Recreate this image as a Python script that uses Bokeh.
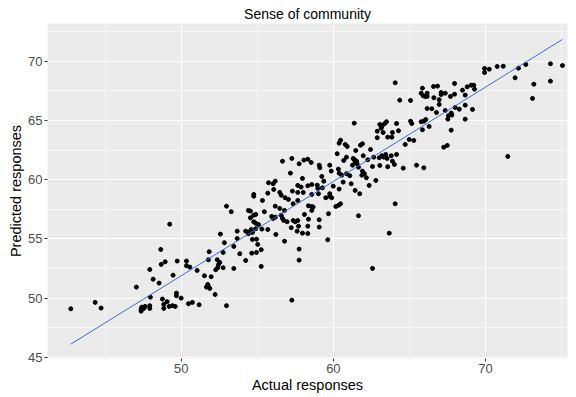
from bokeh.plotting import figure
from bokeh.models import FixedTicker, Range1d, ColumnDataSource
from bokeh.embed import file_html
from bokeh.resources import INLINE

title_text = "Sense of community"
x_label = "Actual responses"
y_label = "Predicted responses"

actual = [
    64.06, 64.36, 65.07, 65.85, 66.58, 66.84, 65.77, 65.90, 66.03, 66.16, 66.16, 66.60, 66.16, 66.47, 66.77,
    61.37, 63.05, 63.18, 63.14, 63.36, 63.49, 64.15, 65.07, 65.15, 65.77, 65.94, 66.07, 65.85, 66.29, 62.88,
    63.27, 63.88, 64.28,
    67.08, 67.35, 67.08, 67.96, 67.96, 67.69, 68.48, 68.79, 69.05, 69.22, 69.27, 68.66, 66.95, 66.95, 67.35,
    67.56, 67.74, 67.78, 67.52, 68.00, 68.27, 68.66, 69.14, 68.66, 67.74, 69.93, 69.93, 70.24, 70.76, 71.16,
    72.16, 72.64, 71.94, 73.17, 73.08, 74.26, 74.26, 75.05,
    56.66, 57.27, 57.75, 58.06, 58.32, 57.18, 57.97, 55.74, 56.04, 56.18, 56.08, 55.69, 56.48, 56.57, 56.83,
    57.05, 57.31, 57.66, 57.88, 57.66, 58.02, 58.32, 57.66, 54.77, 54.77, 55.34, 52.98, 53.29, 54.42, 54.55,
    56.18, 56.48, 56.79, 57.36, 54.77, 54.90, 54.55, 55.47, 55.95, 56.04, 56.18, 56.57, 56.66, 56.74, 56.96,
    57.36, 57.49, 57.66, 58.10, 58.32, 57.71, 57.23, 57.62, 57.97, 54.77, 54.90, 55.08, 55.30, 55.69, 56.22,
    54.60, 54.51, 54.68, 54.42, 54.90, 54.24, 53.68, 52.58, 54.68, 54.95, 55.03, 53.68, 52.84, 56.79, 58.32,
    60.47, 60.38, 60.78, 60.91, 61.78, 61.91, 62.88, 63.57, 63.84, 64.98, 65.28, 64.72, 62.44, 61.47, 60.25,
    60.68, 60.86, 61.30, 61.39, 61.43, 61.56, 61.52, 61.26, 61.65, 61.96, 62.26, 62.65, 63.01, 63.18, 63.31,
    63.44, 63.53, 63.80, 63.88, 64.01, 64.15, 62.57, 63.05, 63.57, 64.59, 65.46, 65.94, 59.07, 59.11, 58.54,
    59.76, 59.86, 60.33, 60.38, 60.55, 60.86, 61.08, 61.91, 61.87, 62.04, 62.17, 59.24, 58.58, 58.94, 58.98,
    59.28, 59.37, 59.99, 60.64, 61.17, 60.38, 61.43, 61.73, 62.35, 62.79, 58.58, 59.02, 59.76, 59.76, 59.89,
    59.50, 58.36, 58.58, 58.67, 58.58, 60.16, 60.34, 60.47, 59.07, 58.36, 59.68, 59.07, 61.65, 64.06, 63.67,
    59.63,
    67.25, 67.48, 71.46,
    49.25,
    48.66, 49.74, 48.95, 48.69, 47.94, 48.16, 48.55, 49.47, 47.06, 47.98, 48.77, 49.08, 48.86, 48.86, 49.21,
    49.43, 49.61, 49.69, 49.69, 47.41, 47.37, 47.37, 47.63, 47.54, 47.94, 47.94, 42.75, 44.35, 44.74,
    50.35, 50.35, 50.57, 51.05, 51.84, 52.76, 51.79, 52.37, 52.54, 52.45, 52.27, 52.40, 52.76, 53.46, 53.46,
    53.85, 54.24, 54.64, 54.95, 55.26, 55.26, 57.75, 57.75, 51.53, 51.97, 51.75, 51.66, 51.88, 51.79, 52.23,
    50.00, 50.48, 50.74, 51.18, 52.98, 57.27,
    62.57,
]

predicted = [
    68.19, 66.72, 66.70, 67.74, 67.88, 67.91, 67.31, 67.09, 67.04, 67.04, 67.31, 66.93, 66.02, 66.00, 65.68,
    64.78, 64.67, 64.50, 64.36, 64.73, 64.90, 64.75, 64.95, 64.75, 64.90, 64.95, 65.09, 64.22, 64.50, 64.10,
    63.99, 63.99, 64.14,
    67.37, 67.31, 67.20, 68.13, 67.23, 67.04, 67.57, 67.85, 67.99, 67.99, 67.65, 67.15, 66.76, 66.36, 65.85,
    65.41, 65.63, 65.46, 65.12, 66.11, 65.96, 66.30, 65.94, 65.12, 64.19, 69.40, 69.06, 69.34, 69.57, 69.59,
    69.43, 69.74, 68.61, 68.07, 66.87, 69.80, 68.33, 69.65,
    61.57, 61.80, 61.35, 61.66, 61.74, 60.56, 60.11, 59.75, 59.66, 59.88, 59.18, 58.87, 58.93, 58.70, 58.48,
    58.34, 59.04, 59.52, 59.38, 58.93, 58.93, 59.49, 58.25, 58.76, 58.61, 58.25, 57.77, 57.30, 57.41, 57.35,
    57.77, 57.58, 57.41, 57.97, 57.01, 57.07, 56.79, 57.30, 56.90, 56.73, 56.84, 57.01, 56.73, 56.56, 56.45,
    56.56, 56.45, 56.56, 57.07, 56.08, 56.08, 55.95, 55.66, 55.49, 56.45, 56.33, 56.22, 55.83, 55.80, 55.38,
    55.80, 55.61, 55.55, 55.44, 55.86, 55.66, 55.66, 55.41, 54.96, 54.98, 54.54, 55.04, 54.68, 54.81, 55.46,
    63.34, 63.09, 62.98, 62.81, 62.92, 63.04, 63.55, 63.60, 63.60, 63.40, 63.32, 62.98, 62.56, 62.47, 62.20,
    61.63, 61.91, 61.80, 61.69, 61.52, 61.35, 61.57, 61.23, 61.06, 62.03, 61.69, 61.91, 61.86, 62.03, 61.91,
    62.14, 61.80, 62.03, 61.57, 61.29, 62.14, 61.12, 61.21, 61.10, 60.98, 61.23, 61.01, 61.23, 61.01, 61.46,
    61.23, 60.73, 60.90, 60.56, 60.39, 60.51, 60.34, 60.73, 60.39, 60.51, 60.17, 60.28, 59.60, 59.54, 59.27,
    59.32, 59.88, 59.46, 59.80, 59.66, 59.21, 59.10, 58.82, 59.52, 59.94, 58.76, 58.82, 58.82, 58.59, 58.48,
    58.48, 57.80, 57.74, 57.69, 57.41, 57.74, 57.85, 57.97, 56.62, 56.67, 57.13, 56.00, 56.96, 57.97, 55.49,
    54.93,
    62.75, 62.90, 61.97,
    56.25,
    54.11, 53.13, 53.07, 52.85, 52.42, 51.60, 51.27, 51.94, 50.93, 50.08, 49.92, 49.70, 49.47, 49.13, 49.30,
    49.36, 49.30, 50.42, 50.20, 49.24, 49.07, 48.90, 49.30, 49.13, 49.36, 49.13, 49.10, 49.64, 49.16,
    53.13, 52.74, 52.62, 52.34, 53.92, 53.86, 53.24, 53.24, 53.02, 52.82, 52.40, 52.57, 52.57, 54.37, 52.51,
    53.75, 53.18, 53.80, 53.86, 54.09, 52.68, 54.14, 53.21, 51.89, 51.81, 51.16, 50.93, 50.82, 50.99, 50.31,
    50.00, 49.53, 49.64, 49.44, 49.36, 49.83,
    52.51,
]

fit_intercept = 12.04
fit_slope = 0.797

x_ticks = [50, 60, 70]
x_minor = [45, 55, 65, 75]
y_ticks = [45, 50, 55, 60, 65, 70]
y_minor = [47.5, 52.5, 57.5, 62.5, 67.5, 72.5]

FONT = "Liberation Sans"

p = figure(frame_width=520, frame_height=335, output_backend="svg", toolbar_location=None,
           x_range=Range1d(41.22, 75.38), y_range=Range1d(44.9, 73.2),
           min_border_left=47, min_border_right=9, min_border_top=23, min_border_bottom=39)

p.background_fill_color = "#EBEBEB"
p.border_fill_color = "white"
p.outline_line_color = None

p.title.text = title_text
p.title.align = "center"
p.title.text_font = FONT
p.title.text_font_size = "14px"
p.title.text_font_style = "normal"
p.title.text_color = "black"
p.title.standoff = 4

xt = FixedTicker(ticks=x_ticks, minor_ticks=x_minor)
yt = FixedTicker(ticks=y_ticks, minor_ticks=y_minor)
p.xaxis.ticker = xt
p.yaxis.ticker = yt
p.xgrid.ticker = xt
p.ygrid.ticker = yt

for g in (p.xgrid, p.ygrid):
    g.grid_line_color = "white"
    g.grid_line_width = 1.2
    g.minor_grid_line_color = "white"
    g.minor_grid_line_width = 0.6

for ax in (p.xaxis, p.yaxis):
    ax.axis_line_color = None
    ax.minor_tick_line_color = None
    ax.major_tick_line_color = "#333333"
    ax.major_tick_out = 3
    ax.major_tick_in = 0
    ax.major_label_text_font = FONT
    ax.major_label_text_font_size = "13px"
    ax.major_label_text_color = "#4D4D4D"
    ax.major_label_standoff = 1
    ax.axis_label_text_font = FONT
    ax.axis_label_text_font_size = "14.5px"
    ax.axis_label_text_font_style = "normal"
    ax.axis_label_text_color = "black"
    ax.axis_label_standoff = 1

p.xaxis.axis_label = x_label
p.yaxis.axis_label = y_label

src = ColumnDataSource(data=dict(actual=actual, predicted=predicted))
p.scatter(x="actual", y="predicted", source=src, size=4, color="black")

xs = [min(actual), max(actual)]
ys = [fit_intercept + fit_slope * v for v in xs]
p.line(xs, ys, color="#3F6BD1", line_width=1)

open("out.html", "w").write(file_html(p, INLINE))
